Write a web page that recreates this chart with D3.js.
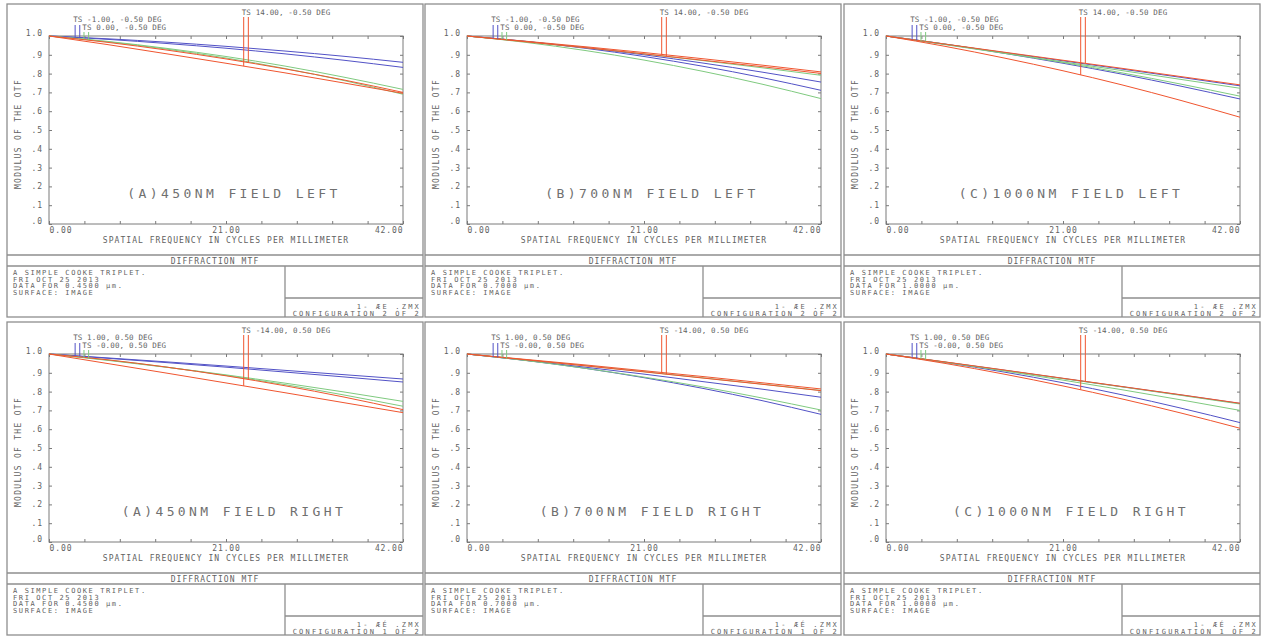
<!DOCTYPE html>
<html lang="en">
<head>
<meta charset="UTF-8">
<title>Diffraction MTF</title>
<script src="https://d3js.org/d3.v7.min.js"></script>
<style>
  body { margin: 0; background: #fff; }
  svg text { font-family: "DejaVu Sans Mono", monospace; fill: #626262; }
</style>
</head>
<body>
<svg width="1269" height="636"></svg>
<script>
// spatial frequency samples, cycles per mm
const freqs = [0, 7, 14, 21, 28, 35, 42];

// series order in every panel: blue T, blue S, green T, green S, red T, red S
const mtf450Left = [
  [1, 0.985, 0.967, 0.945, 0.920, 0.892, 0.860],
  [1, 0.982, 0.960, 0.935, 0.905, 0.871, 0.833],
  [1, 0.971, 0.934, 0.891, 0.840, 0.781, 0.716],
  [1, 0.969, 0.930, 0.883, 0.827, 0.763, 0.690],
  [1, 0.954, 0.905, 0.855, 0.804, 0.750, 0.695],
  [1, 0.966, 0.925, 0.878, 0.825, 0.766, 0.700]
];
const mtf700Left = [
  [1, 0.971, 0.938, 0.900, 0.856, 0.808, 0.755],
  [1, 0.971, 0.935, 0.891, 0.839, 0.779, 0.711],
  [1, 0.970, 0.938, 0.905, 0.869, 0.831, 0.791],
  [1, 0.966, 0.923, 0.872, 0.812, 0.744, 0.667],
  [1, 0.972, 0.943, 0.912, 0.879, 0.845, 0.809],
  [1, 0.969, 0.938, 0.905, 0.871, 0.837, 0.801]
];
const mtf1000Left = [
  [1, 0.956, 0.912, 0.868, 0.824, 0.780, 0.735],
  [1, 0.957, 0.908, 0.855, 0.797, 0.733, 0.665],
  [1, 0.954, 0.908, 0.862, 0.816, 0.769, 0.722],
  [1, 0.957, 0.910, 0.859, 0.804, 0.744, 0.680],
  [1, 0.945, 0.883, 0.815, 0.740, 0.657, 0.568],
  [1, 0.957, 0.914, 0.871, 0.828, 0.784, 0.740]
];
const mtf450Right = [
  [1, 0.979, 0.958, 0.936, 0.913, 0.890, 0.867],
  [1, 0.977, 0.954, 0.930, 0.904, 0.878, 0.851],
  [1, 0.966, 0.929, 0.889, 0.845, 0.798, 0.748],
  [1, 0.968, 0.930, 0.886, 0.837, 0.782, 0.722],
  [1, 0.949, 0.898, 0.846, 0.794, 0.741, 0.688],
  [1, 0.969, 0.930, 0.884, 0.831, 0.771, 0.704]
];
const mtf700Right = [
  [1, 0.966, 0.930, 0.893, 0.853, 0.813, 0.770],
  [1, 0.966, 0.924, 0.874, 0.817, 0.752, 0.679],
  [1, 0.969, 0.938, 0.906, 0.873, 0.840, 0.806],
  [1, 0.965, 0.924, 0.877, 0.825, 0.766, 0.702],
  [1, 0.971, 0.942, 0.911, 0.880, 0.847, 0.814],
  [1, 0.969, 0.937, 0.905, 0.872, 0.839, 0.805]
];
const mtf1000Right = [
  [1, 0.957, 0.914, 0.870, 0.826, 0.782, 0.737],
  [1, 0.955, 0.904, 0.847, 0.783, 0.712, 0.635],
  [1, 0.957, 0.913, 0.869, 0.825, 0.780, 0.734],
  [1, 0.956, 0.910, 0.861, 0.810, 0.756, 0.700],
  [1, 0.950, 0.893, 0.830, 0.761, 0.686, 0.605],
  [1, 0.958, 0.915, 0.871, 0.827, 0.783, 0.738]
];

const panelData = [mtf450Left, mtf700Left, mtf1000Left, mtf450Right, mtf700Right, mtf1000Right];
const panelTitles = [
  "(A)450NM FIELD LEFT", "(B)700NM FIELD LEFT", "(C)1000NM FIELD LEFT",
  "(A)450NM FIELD RIGHT", "(B)700NM FIELD RIGHT", "(C)1000NM FIELD RIGHT"
];
const wavelengths = ["0.4500", "0.7000", "1.0000", "0.4500", "0.7000", "1.0000"];
const fieldLabelsLeft = ["TS -1.00, -0.50 DEG", "TS 0.00, -0.50 DEG", "TS 14.00, -0.50 DEG"];
const fieldLabelsRight = ["TS 1.00, 0.50 DEG", "TS -0.00, 0.50 DEG", "TS -14.00, 0.50 DEG"];
const configLabels = ["CONFIGURATION 2 OF 2", "CONFIGURATION 1 OF 2"];
const fileLabels = ["1- \u00C6E  .ZMX", "1- \u00C6\u00C9  .ZMX"];
const markerFreqs = [3.1, 3.65, 4.15, 4.7, 23.1, 23.65];
const seriesColors = ["#5252c6", "#5252c6", "#7fca7f", "#7fca7f", "#f0552f", "#f0552f"];
const yTicks = [0, 0.1, 0.2, 0.3, 0.4, 0.5, 0.6, 0.7, 0.8, 0.9, 1.0];
const yTickLabels = [".0", ".1", ".2", ".3", ".4", ".5", ".6", ".7", ".8", ".9", "1.0"];
const xTicks = [0, 4.2, 8.4, 12.6, 16.8, 21, 25.2, 29.4, 33.6, 37.8, 42];
const xTickLabels = {0: "0.00", 21: "21.00", 42: "42.00"};
const infoLines = ["A SIMPLE COOKE TRIPLET.", "FRI OCT 25 2013", "DATA FOR %W \u00B5m.", "SURFACE: IMAGE"];

const svg = d3.select("svg");
svg.append("rect").attr("width", 1269).attr("height", 636).attr("fill", "#fff");

const panelX = [7, 425, 844],
      panelY = [4, 322],
      panelW = 416,
      panelH = 313;
const plotL = 42, plotT = 32, plotW = 354, plotH = 188;

const x = d3.scaleLinear().domain([0, 42]).range([0, plotW]);
const y = d3.scaleLinear().domain([0, 1]).range([plotH, 0]);
const border = "#8e8e8e";

panelData.forEach(function(series, i) {
  const row = Math.floor(i / 3), col = i % 3;
  const g = svg.append("g")
    .attr("transform", "translate(" + panelX[col] + "," + panelY[row] + ")");

  // outer frame and footer boxes
  g.append("rect").attr("width", panelW).attr("height", panelH)
    .attr("fill", "none").attr("stroke", border).attr("stroke-width", 1.3);
  g.append("line").attr("x1", 0).attr("x2", panelW).attr("y1", 251).attr("y2", 251)
    .attr("stroke", border).attr("stroke-width", 1.3);
  g.append("line").attr("x1", 0).attr("x2", panelW).attr("y1", 262).attr("y2", 262)
    .attr("stroke", border).attr("stroke-width", 1.3);
  g.append("line").attr("x1", 278).attr("x2", 278).attr("y1", 262).attr("y2", panelH)
    .attr("stroke", border).attr("stroke-width", 1.3);
  g.append("line").attr("x1", 278).attr("x2", panelW).attr("y1", 294).attr("y2", 294)
    .attr("stroke", border).attr("stroke-width", 1.3);

  g.append("text").attr("x", panelW / 2).attr("y", 259.5)
    .attr("text-anchor", "middle").style("font-size", "8px").style("letter-spacing", "1.1px")
    .text("DIFFRACTION MTF");

  infoLines.forEach(function(t, k) {
    g.append("text").attr("x", 6).attr("y", 271 + k * 6.6)
      .style("font-size", "7px").style("letter-spacing", "1.6px")
      .text(t.replace("%W", wavelengths[i]));
  });
  g.append("text").attr("x", panelW - 2).attr("y", 304.5)
    .attr("text-anchor", "end").style("font-size", "7px").style("letter-spacing", "2.2px")
    .text(fileLabels[row]);
  g.append("text").attr("x", panelW - 2).attr("y", 312)
    .attr("text-anchor", "end").style("font-size", "7px").style("letter-spacing", "2.2px")
    .text(configLabels[row]);

  // plot area
  const p = g.append("g").attr("transform", "translate(" + plotL + "," + plotT + ")");
  p.append("rect").attr("width", plotW).attr("height", plotH)
    .attr("fill", "none").attr("stroke", "#7a7a7a").attr("stroke-width", 1);

  const axB = p.append("g").attr("transform", "translate(0," + plotH + ")")
    .call(d3.axisBottom(x).tickValues(xTicks).tickSizeInner(-3).tickSizeOuter(0).tickPadding(3)
      .tickFormat(d => xTickLabels[d] || ""));
  axB.selectAll("text").attr("text-anchor", d => d === 0 ? "start" : d === 42 ? "end" : "middle");
  p.append("g").call(d3.axisTop(x).tickValues(xTicks).tickSizeInner(-3).tickSizeOuter(0).tickFormat(""));
  const axL = p.append("g").call(d3.axisLeft(y).tickValues(yTicks).tickSizeInner(-3).tickSizeOuter(0).tickPadding(6)
    .tickFormat((d, k) => yTickLabels[k]));
  // the end labels sit a little above their ticks in the original plot
  axL.selectAll("text").attr("y", d => (d === 0 || d === 1) ? -3 : 0);
  p.append("g").attr("transform", "translate(" + plotW + ",0)")
    .call(d3.axisRight(y).tickValues(yTicks).tickSizeInner(-3).tickSizeOuter(0).tickFormat(""));
  p.selectAll(".domain").remove();
  p.selectAll(".tick line").attr("stroke", "#7a7a7a");
  p.selectAll(".tick text").style("font-size", "8px").style("letter-spacing", "0.9px")
    .attr("fill", null).style("font-family", null);

  p.append("text").attr("x", plotW / 2).attr("y", plotH + 18.5)
    .attr("text-anchor", "middle").style("font-size", "8px").style("letter-spacing", "1.05px")
    .text("SPATIAL FREQUENCY IN CYCLES PER MILLIMETER");
  p.append("text").attr("transform", "translate(" + (-28) + "," + (plotH / 2 + 4) + ") rotate(-90)")
    .attr("text-anchor", "middle").style("font-size", "8px").style("letter-spacing", "1.3px")
    .text("MODULUS OF THE OTF");

  p.append("text").attr("x", plotW / 2 + 8).attr("y", 162)
    .attr("text-anchor", "middle").style("font-size", "13px").style("letter-spacing", "3.4px")
    .style("fill", "#707070")
    .text(panelTitles[i]);

  // curves
  const line = d3.line().x((d, k) => x(freqs[k])).y(d => y(d)).curve(d3.curveMonotoneX);
  series.forEach(function(vals, s) {
    p.append("path").attr("d", line(vals))
      .attr("fill", "none").attr("stroke", seriesColors[s]).attr("stroke-width", 1);
  });

  // field markers
  const markTop = [-11, -11, -4, -4, -19, -19];
  series.forEach(function(vals, s) {
    const at = d3.scaleLinear().domain(freqs).range(vals);
    const mx = x(markerFreqs[s]);
    p.append("line").attr("x1", mx).attr("x2", mx)
      .attr("y1", markTop[s]).attr("y2", y(at(markerFreqs[s])))
      .attr("stroke", seriesColors[s]).attr("stroke-width", 1);
  });
  const labels = row === 0 ? fieldLabelsLeft : fieldLabelsRight;
  const labelPos = [[x(markerFreqs[0]) - 2, -14], [x(markerFreqs[1]) + 2.5, -6], [x(markerFreqs[4]) - 2, -20.7]];
  labels.forEach(function(t, k) {
    p.append("text").attr("x", labelPos[k][0]).attr("y", labelPos[k][1])
      .style("font-size", "7.5px").style("letter-spacing", "0.15px")
      .text(t);
  });
});
</script>
</body>
</html>
